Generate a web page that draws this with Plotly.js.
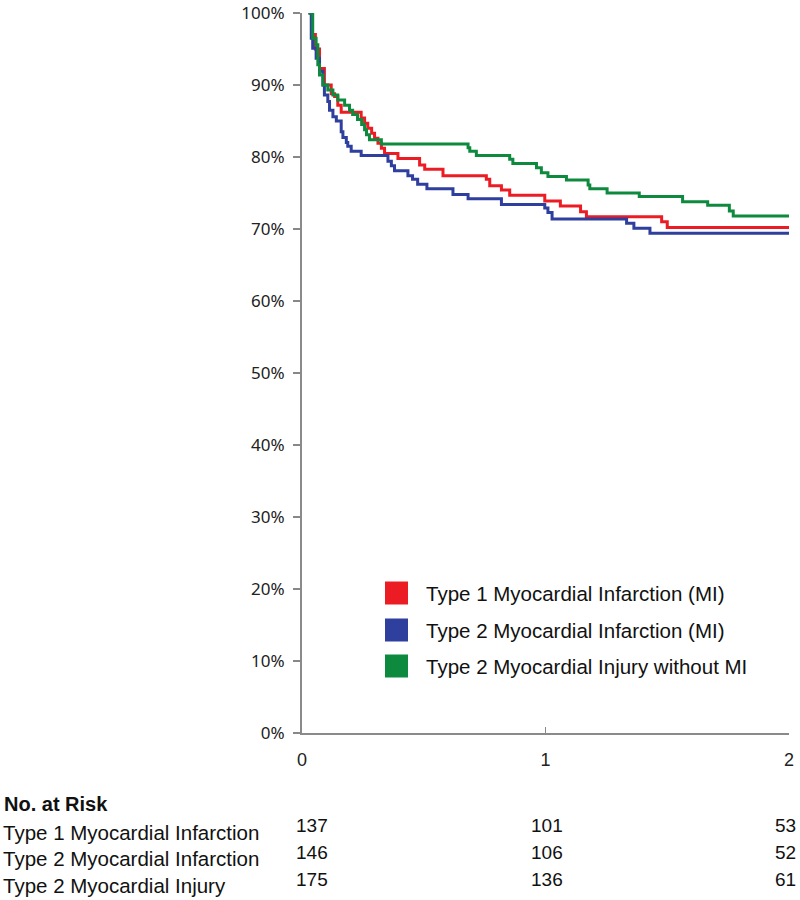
<!DOCTYPE html>
<html>
<head>
<meta charset="utf-8">
<script src="https://cdn.plot.ly/plotly-3.0.1.min.js"></script>
<style>html,body{margin:0;padding:0;background:#fff;}#chart{width:800px;height:900px;}</style>
</head>
<body>
<div id="chart"></div>
<script>
// ---- Data (years, survival %) ----
const seriesNames = ["Type 1 Myocardial Infarction (MI)", "Type 2 Myocardial Infarction (MI)", "Type 2 Myocardial Injury without MI"];
const seriesColors = ["#EC1C24", "#2E3F9E", "#0E8A3E"];

const t1Time = [0.027,0.039,0.055,0.072,0.092,0.120,0.134,0.147,0.161,0.243,0.257,0.270,0.286,0.298,0.312,0.326,0.339,0.394,0.483,0.504,0.579,0.757,0.771,0.819,0.853,0.997,1.061,1.144,1.168,1.477,1.500,2.0];
const t1Surv = [100,97.0,95.0,92.3,90.0,88.8,88.4,87.2,86.2,85.4,84.7,84.0,83.3,82.6,81.9,81.2,80.5,79.8,78.9,78.3,77.4,76.9,76.0,75.4,74.7,73.9,73.2,72.4,71.7,71.0,70.2,70.2];

const t2Time = [0.027,0.038,0.044,0.058,0.072,0.086,0.092,0.106,0.113,0.127,0.141,0.161,0.168,0.182,0.188,0.202,0.243,0.353,0.367,0.380,0.435,0.454,0.475,0.513,0.620,0.682,0.819,0.997,1.010,1.027,1.333,1.363,1.429,2.0];
const t2Surv = [100,96.5,95.1,93.7,91.9,90.0,88.6,87.7,86.5,85.6,85.0,83.5,82.7,82.0,81.5,80.8,80.2,79.4,78.8,78.1,77.4,76.9,76.2,75.6,74.8,74.2,73.4,72.9,72.3,71.4,70.8,70.1,69.4,69.4];

const injTime = [0.027,0.044,0.058,0.065,0.072,0.086,0.106,0.127,0.147,0.175,0.195,0.208,0.228,0.245,0.257,0.265,0.277,0.326,0.682,0.689,0.716,0.853,0.866,0.963,0.983,1.010,1.086,1.175,1.182,1.253,1.385,1.563,1.666,1.755,1.771,2.0];
const injSurv = [100,96.5,95.6,92.8,91.4,90.0,89.3,88.6,87.9,87.2,86.5,85.9,85.2,84.5,83.8,83.1,82.4,81.8,81.3,80.8,80.2,79.7,79.1,78.5,77.8,77.3,76.8,76.1,75.6,75.0,74.5,73.8,73.3,72.5,71.8,71.8];

const xTickVals = [0,1,2];
const xTickText = ["0","1","2"];
const yTickVals = [0,10,20,30,40,50,60,70,80,90,100];
const yTickText = ["0%","10%","20%","30%","40%","50%","60%","70%","80%","90%","100%"];

const riskTitle = "No. at Risk";
const riskLabels = ["Type 1 Myocardial Infarction", "Type 2 Myocardial Infarction", "Type 2 Myocardial Injury"];
const riskTimes = [0,1,2];
const riskT1 = [137,101,53];
const riskT2 = [146,106,52];
const riskInj = [175,136,61];

// ---- Build ----
const allTimes = [t1Time, t2Time, injTime];
const allSurv = [t1Surv, t2Surv, injSurv];
const traces = allTimes.map((tt, i) => ({
  type: "scatter", mode: "lines", x: tt, y: allSurv[i], name: seriesNames[i],
  line: {color: seriesColors[i], width: 3, shape: "hv"}, showlegend: false, hoverinfo: "skip"
}));

const plotTop = 13, plotBottom = 733, plotH = plotBottom - plotTop;
const plotLeft = 302, plotW = 487;
const tableFont = "Liberation Sans, Arial, sans-serif";
const annotations = [];
const shapes = [];

// legend (manual, square swatches)
const legRowY = [593, 630, 666];
seriesNames.forEach((nm, i) => {
  const yc = legRowY[i];
  shapes.push({type: "rect", xref: "paper", yref: "paper",
    x0: (385 - plotLeft) / plotW, x1: (408 - plotLeft) / plotW,
    y0: (plotBottom - (yc + 11.5)) / plotH, y1: (plotBottom - (yc - 11.5)) / plotH,
    fillcolor: seriesColors[i], line: {width: 0}});
  annotations.push({xref: "paper", yref: "paper", x: (424 - plotLeft) / plotW, y: (plotBottom - yc) / plotH,
    xanchor: "left", yanchor: "middle", showarrow: false, text: nm,
    font: {family: tableFont, size: 20.5, color: "#111"}});
});

// risk table
annotations.push({xref: "paper", yref: "paper", x: 0, xshift: -300, y: 0, yshift: -(804 - plotBottom),
  xanchor: "left", yanchor: "middle", showarrow: false, text: "<b>" + riskTitle + "</b>",
  font: {family: tableFont, size: 20, color: "#111"}});
const rowCenters = [832, 858, 885];
const numCenters = [825, 852, 879];
const riskRows = [riskT1, riskT2, riskInj];
riskLabels.forEach((lab, r) => {
  annotations.push({xref: "paper", yref: "paper", x: 0, xshift: -301, y: 0, yshift: -(rowCenters[r] - plotBottom),
    xanchor: "left", yanchor: "middle", showarrow: false, text: lab,
    font: {family: tableFont, size: 20.5, color: "#111"}});
  riskRows[r].forEach((v, c) => {
    const anch = c === 0 ? "left" : (c === riskTimes.length - 1 ? "right" : "center");
    const xs = c === 0 ? -8 : (c === riskTimes.length - 1 ? 9 : 1);
    annotations.push({xref: "x", yref: "paper", x: riskTimes[c], xshift: xs, y: 0, yshift: -(numCenters[r] - plotBottom),
      xanchor: anch, yanchor: "middle", showarrow: false, text: String(v),
      font: {family: tableFont, size: 19, color: "#111"}});
  });
});

const layout = {
  width: 800, height: 900,
  margin: {l: plotLeft, r: 800 - plotLeft - plotW, t: plotTop, b: 900 - plotBottom, pad: 0},
  paper_bgcolor: "#fff", plot_bgcolor: "#fff",
  showlegend: false,
  xaxis: {range: [0, 2], tickvals: xTickVals, ticktext: xTickText, ticks: "inside", ticklen: 6, tickwidth: 1.5,
    tickcolor: "#888", showline: true, linecolor: "#8a8a8a", linewidth: 2, showgrid: false, zeroline: false,
    ticklabelstandoff: 9, tickfont: {family: "Liberation Sans, Arial, sans-serif", size: 18, color: "#222"}},
  yaxis: {range: [0, 100], tickvals: yTickVals, ticktext: yTickText, ticks: "outside", ticklen: 7, tickwidth: 1.5,
    tickcolor: "#888", showline: true, linecolor: "#8a8a8a", linewidth: 2, showgrid: false, zeroline: false,
    ticklabeloverflow: "allow", ticklabelstandoff: 5,
    tickfont: {family: "Noto Sans, Open Sans, sans-serif", size: 17, color: "#222"}},
  annotations: annotations,
  shapes: shapes
};

Plotly.newPlot("chart", traces, layout, {staticPlot: true, displayModeBar: false});
</script>
</body>
</html>
